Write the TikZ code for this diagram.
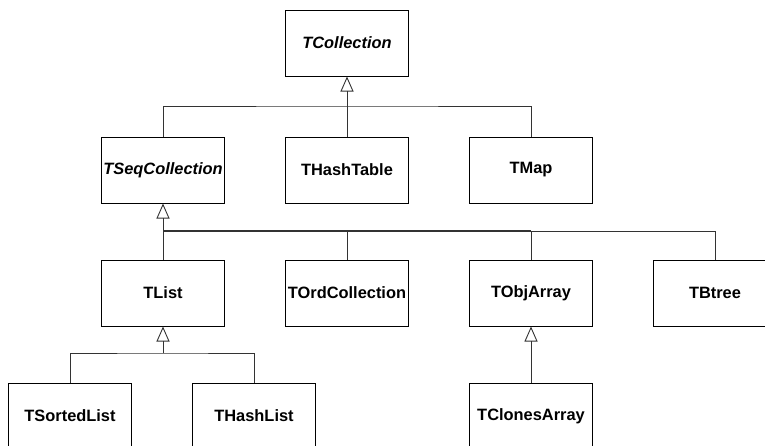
\documentclass[tikz,border=0pt]{standalone}
\usepackage{fontspec}
\setmainfont{Liberation Sans}
\usetikzlibrary{calc, arrows.meta}

\begin{document}
\begin{tikzpicture}[x=1pt, y=-1pt,
    classbox/.style={draw=borderColour, line width=1pt, fill=white, minimum width=123pt,
        minimum height=66pt, inner sep=0pt, font=\fontsize{16.4}{19}\selectfont\bfseries},
    abstract/.style={classbox, font=\fontsize{16.4}{19}\selectfont\bfseries\itshape},
    link/.style={draw=lineColour, line width=0.9pt},
    inherit/.style={link, -{Triangle[open, width=13pt, length=15pt]}}]
    % Colours
    \definecolor{borderColour}{HTML}{000000}
    \definecolor{lineColour}{HTML}{333333}

    % Fix the page size
    \useasboundingbox (0,0) rectangle (765,445);

    % Define column and row positions
    \def\colA{70}
    \def\colB{163}
    \def\colC{347}
    \def\colD{531}
    \def\colE{715}
    \def\colF{254}

    % Draw the classes
    \node[abstract] (tcoll) at (\colC,43) {TCollection};
    \node[abstract] (tseq) at (\colB,170) {TSeqCollection};
    \node[classbox] (thashtab) at (\colC,170) {THashTable};
    \node[classbox] (tmap) at (\colD,170) {TMap};
    \node[classbox] (tlist) at (\colB,293) {TList};
    \node[classbox] (tord) at (\colC,293) {TOrdCollection};
    \node[classbox] (tobj) at (\colD,293) {TObjArray};
    \node[classbox] (tbtree) at (\colE,293) {TBtree};
    \node[classbox] (tsorted) at (\colA,416) {TSortedList};
    \node[classbox] (thashlist) at (\colF,416) {THashList};
    \node[classbox] (tclones) at (\colD,416) {TClonesArray};

    % Junction points below the parents
    \coordinate (busA) at (\colC,106);
    \coordinate (busB) at (\colB,231);
    \coordinate (busC) at (\colB,353);

    % Subclasses of TCollection
    \draw[inherit] (busA) -- (tcoll.south);
    \draw[link] (tseq.north) |- (busA) -| (tmap.north);
    \draw[link] (thashtab.north) -- (busA);

    % Subclasses of TSeqCollection
    \draw[inherit] (busB) -- (tseq.south);
    \draw[link] (tlist.north) |- (busB) -| (tbtree.north);
    \draw[link, line width=1.6pt] (busB) -- (tobj.north |- busB);
    \draw[link] (tord.north) -- (tord.north |- busB);
    \draw[link] (tobj.north) -- (tobj.north |- busB);

    % Subclasses of TList
    \draw[inherit] (busC) -- (tlist.south);
    \draw[link] (tsorted.north) |- (busC) -| (thashlist.north);

    % Subclass of TObjArray
    \draw[inherit] (tclones.north) -- (tobj.south);

\end{tikzpicture}
\end{document}
